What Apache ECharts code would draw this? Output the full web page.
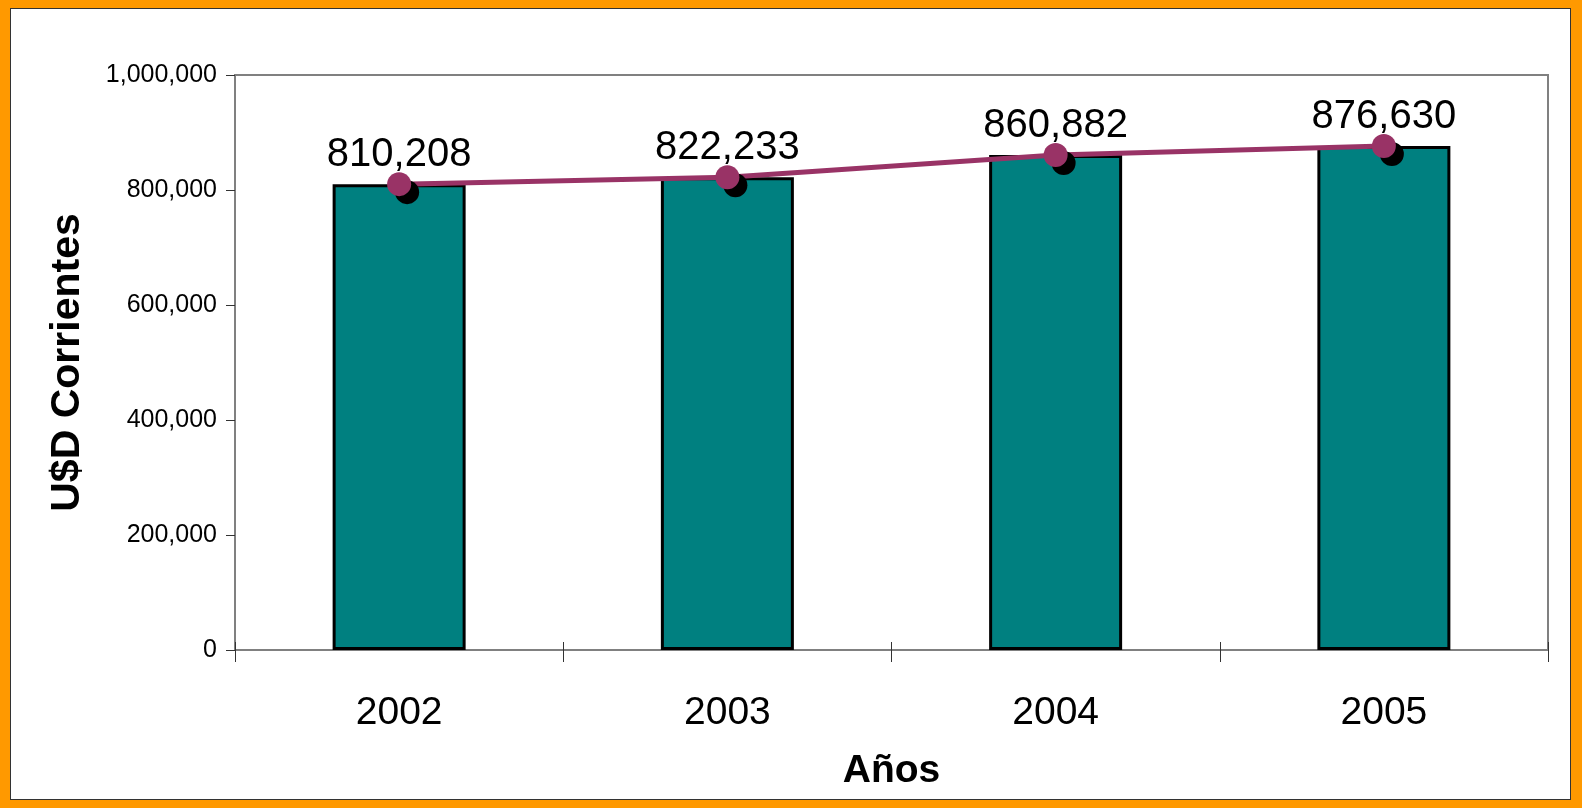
<!DOCTYPE html>
<html>
<head>
<meta charset="utf-8">
<script src="https://cdn.jsdelivr.net/npm/echarts@6/dist/echarts.min.js"></script>
<style>
  html, body { margin: 0; padding: 0; background: #fff; }
  #wrap { position: relative; width: 1582px; height: 808px; }
  #chart { position: absolute; left: 0; top: 0; width: 1582px; height: 808px; }
  #frame { position: absolute; left: 0; top: 0; width: 1582px; height: 808px; box-sizing: border-box;
           border-style: solid; border-color: #FF9900; border-width: 8px 11px 8px 10px; pointer-events: none; }
  #frame::after { content: ''; position: absolute; left: 0; top: 0; right: 0; bottom: 0; border: 1px solid #333; }
</style>
</head>
<body>
<div id="wrap">
  <div id="chart"></div>
  <div id="frame"></div>
</div>
<script>
const categories = ['2002', '2003', '2004', '2005'];
const barValues = [810208, 822233, 860882, 876630];
const lineValues = [810208, 822233, 860882, 876630];
const yTicks = [0, 200000, 400000, 600000, 800000, 1000000];

const fmt = v => v.toLocaleString('en-US');
const FONT = '"Liberation Sans", Arial, sans-serif';

const chart = echarts.init(document.getElementById('chart'), null, { renderer: 'canvas' });
chart.setOption({
  animation: false,
  backgroundColor: '#ffffff',
  grid: { left: 235, top: 75, width: 1313, height: 575, show: true, borderColor: '#808080', borderWidth: 2, backgroundColor: 'transparent' },
  xAxis: [
    {
      type: 'category', data: categories, boundaryGap: true, position: 'bottom',
      axisLine: { lineStyle: { color: '#808080', width: 2 } },
      axisTick: { show: true, alignWithLabel: false, interval: 0, length: 12, lineStyle: { color: '#333', width: 1 } },
      axisLabel: { fontFamily: FONT, fontSize: 39, color: '#000', margin: 44 },
      name: 'Años', nameLocation: 'middle', nameGap: 121,
      nameTextStyle: { fontFamily: FONT, fontSize: 39, fontWeight: 'bold', color: '#000', verticalAlign: 'middle' }
    },
    {
      type: 'category', data: categories, boundaryGap: true, position: 'bottom',
      axisLine: { show: false },
      axisTick: { show: true, inside: true, interval: 0, length: 8, lineStyle: { color: '#333', width: 1 } },
      axisLabel: { show: false }
    }
  ],
  yAxis: {
    type: 'value', min: yTicks[0], max: yTicks[yTicks.length - 1], interval: yTicks[1] - yTicks[0],
    axisLine: { show: true, lineStyle: { color: '#808080', width: 2 } },
    axisTick: { show: true, length: 9, lineStyle: { color: '#333', width: 1 } },
    splitLine: { show: false },
    axisLabel: { fontFamily: FONT, fontSize: 25, color: '#000', margin: 18, formatter: v => fmt(v) },
    name: 'U$D Corrientes', nameLocation: 'middle', nameGap: 167,
    nameTextStyle: { fontFamily: FONT, fontSize: 41, fontWeight: 'bold', color: '#000', verticalAlign: 'middle' }
  },
  series: [
    {
      type: 'bar', data: barValues, barWidth: 133, xAxisIndex: 0,
      itemStyle: { color: '#008080', borderColor: '#000', borderWidth: 3 }
    },
    {
      type: 'line', data: lineValues, xAxisIndex: 0, z: 5,
      symbol: 'circle', symbolSize: 24,
      lineStyle: { color: '#993366', width: 5 },
      itemStyle: { color: '#993366', shadowColor: '#000', shadowOffsetX: 8, shadowOffsetY: 8, shadowBlur: 0 },
      label: { show: true, position: 'top', distance: -3, fontFamily: FONT, fontSize: 40, color: '#000', formatter: p => fmt(p.value) }
    }
  ]
});
</script>
</body>
</html>
